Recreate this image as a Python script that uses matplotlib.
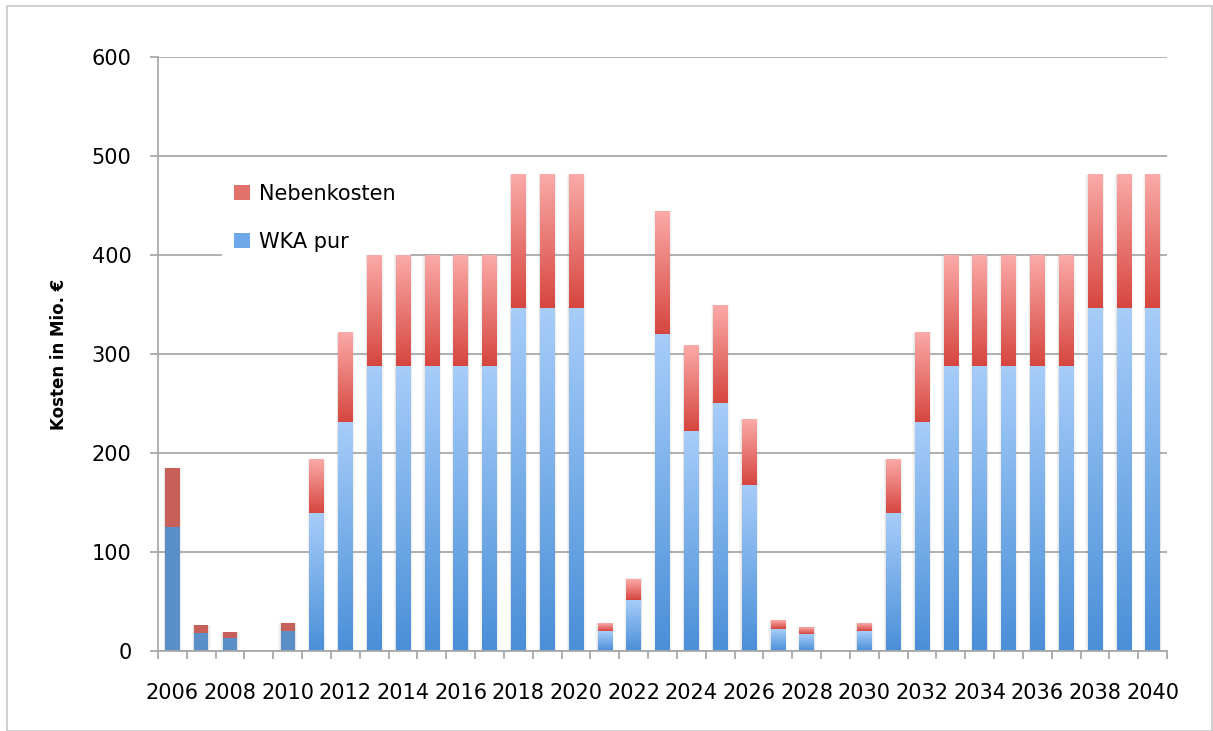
import numpy as np
import matplotlib.pyplot as plt
from matplotlib.colors import LinearSegmentedColormap
from matplotlib.patches import Rectangle, Patch

years = list(range(2006, 2041))
wka_pur = [125, 18, 13, 0, 20, 139, 231, 288, 288, 288, 288, 288, 346, 346, 346,
           20, 52, 320, 222, 251, 168, 22, 17, 0, 20, 139, 231, 288, 288, 288,
           288, 288, 346, 346, 346]
nebenkosten = [60, 8, 6, 0, 8, 54, 90, 112, 112, 112, 112, 112, 135, 135, 135,
               8, 21, 124, 86, 98, 66, 9, 7, 0, 8, 54, 90, 112, 112, 112,
               112, 112, 135, 135, 135]
# years drawn in plain colour instead of a gradient
flat_years = [2006, 2007, 2008, 2010]

plt.rcParams['font.family'] = ['DejaVu Sans']

blue_cm = LinearSegmentedColormap.from_list('blue', ['#4a8fd8', '#a7cdf9'])
red_cm = LinearSegmentedColormap.from_list('red', ['#d6463f', '#fbaaa8'])
blue_flat = '#5b8fc8'
red_flat = '#c8605a'

fig = plt.figure(figsize=(12.13, 7.31), dpi=100)
ax = fig.add_axes([158 / 1213, 80 / 731, 1009 / 1213, 594 / 731])

grad = np.linspace(0, 1, 200).reshape(-1, 1)
bw = 0.5


def draw_segment(x, y0, h, cmap, flat, color):
    if h <= 0:
        return
    # soft gray shadow around the bar
    for k, a in ((0.08, 0.04), (0.05, 0.06), (0.025, 0.08)):
        ax.add_patch(Rectangle((x - bw / 2 - k, y0), bw + 2 * k, h + k * 6,
                               facecolor='#707070', alpha=a, lw=0, zorder=2))
    if flat:
        ax.add_patch(Rectangle((x - bw / 2, y0), bw, h, facecolor=color,
                               lw=0, zorder=3))
    else:
        ax.imshow(grad, cmap=cmap, origin='lower', aspect='auto',
                  extent=[x - bw / 2, x + bw / 2, y0, y0 + h],
                  interpolation='bilinear', zorder=3)


for i, yr in enumerate(years):
    flat = yr in flat_years
    draw_segment(i, 0, wka_pur[i], blue_cm, flat, blue_flat)
    draw_segment(i, wka_pur[i], nebenkosten[i], red_cm, flat, red_flat)

ax.set_xlim(-0.5, len(years) - 0.5)
ax.set_ylim(0, 600)

grid_c = '#a9a9a9'
ax.set_yticks(range(0, 601, 100))
ax.yaxis.grid(True, color=grid_c, lw=1.3, zorder=1)
ax.set_axisbelow(True)

# tick marks between categories, labels under every second year
ax.set_xticks(np.arange(-0.5, len(years), 1.0))
ax.set_xticklabels([])
ax.set_xticks(np.arange(0, len(years), 2), minor=True)
ax.set_xticklabels([str(y) for y in years[::2]], minor=True)
ax.tick_params(axis='x', which='major', length=6, width=1.3, color=grid_c)
ax.tick_params(axis='x', which='minor', length=0, pad=23, labelsize=15)
ax.tick_params(axis='y', length=6, width=1.3, color=grid_c, pad=13, labelsize=15)

for s in ('top', 'right'):
    ax.spines[s].set_visible(False)
for s in ('left', 'bottom'):
    ax.spines[s].set_color(grid_c)
    ax.spines[s].set_linewidth(1.3)
    ax.spines[s].set_zorder(4)

ax.set_ylabel('Kosten in Mio. €', fontsize=12, fontweight='bold', labelpad=17)

handles = [Patch(facecolor='#e2716b', label='Nebenkosten'),
           Patch(facecolor='#6ea8e8', label='WKA pur')]
leg = ax.legend(handles=handles, loc='upper left', bbox_to_anchor=(0.053, 0.825),
                frameon=True, fancybox=False, framealpha=1, edgecolor='white',
                fontsize=15, handlelength=0.75, handleheight=0.75,
                handletextpad=0.45, labelspacing=1.35, borderpad=0.6)
# above the gridlines, below the bars
leg.set_zorder(1.5)

# light frame around the whole figure
fig.patches.append(Rectangle((7 / 1213, 0), 1205 / 1213, 725 / 731,
                             transform=fig.transFigure, fill=False,
                             edgecolor='#c8c8c8', lw=1.2))

plt.savefig('out.png', dpi=100)
